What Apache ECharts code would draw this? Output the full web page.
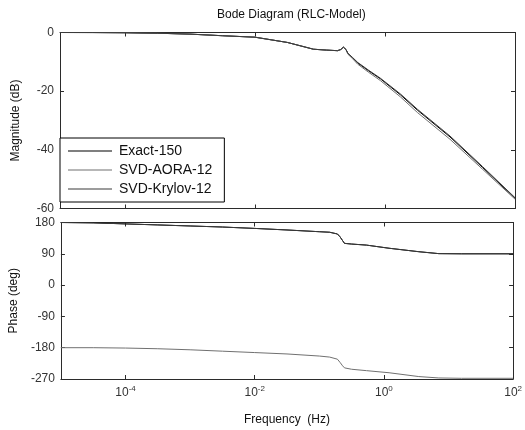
<!DOCTYPE html>
<html>
<head>
<meta charset="utf-8">
<script src="https://cdn.jsdelivr.net/npm/echarts@6/dist/echarts.min.js"></script>
<style>
  html, body { margin: 0; padding: 0; background: #fff; }
  #bode { width: 525px; height: 430px; }
</style>
</head>
<body>
<div id="bode"></div>
<script>
// log10 of frequency (Hz)
var magFreq = [-5, -4.5, -4, -3.5, -3, -2.5, -2, -1.5, -1.1, -0.9, -0.73, -0.68, -0.64, -0.62, -0.6, -0.57, -0.5, -0.42, -0.25, -0.07, 0.24, 0.5, 1.0, 1.5, 2.0];
var magExact  = [0, -0.02, -0.08, -0.25, -0.55, -1.1, -1.6, -3.4, -5.7, -6.0, -6.2, -5.8, -5.0, -4.5, -5.8, -7.2, -8.6, -10.4, -13.1, -15.8, -21.3, -26.5, -35.6, -46.0, -56.5];
var magAora   = [0, -0.02, -0.08, -0.25, -0.55, -1.1, -1.6, -3.4, -5.7, -6.0, -6.2, -5.8, -5.0, -4.6, -5.9, -7.4, -8.9, -10.8, -13.6, -16.4, -22.0, -27.3, -36.4, -46.6, -56.8];
var magKrylov = [0, -0.02, -0.08, -0.25, -0.55, -1.1, -1.6, -3.4, -5.7, -6.0, -6.2, -5.8, -5.0, -4.5, -5.8, -7.1, -8.5, -10.2, -12.9, -15.6, -21.0, -26.2, -35.3, -45.7, -56.3];

var phFreq = [-5, -4.5, -4, -3.5, -3, -2.5, -2, -1.5, -1, -0.84, -0.72, -0.68, -0.64, -0.61, -0.5, -0.27, 0.08, 0.54, 0.85, 1.2, 2.0];
var phExact  = [180, 179, 176, 173, 170, 167, 163, 158.5, 153.5, 152, 147, 139, 128, 120, 118, 115, 106, 96, 90.5, 90, 90];
var phAora   = [-180, -180, -181, -183, -186, -190, -194, -198, -204, -207, -213, -222, -232, -238, -242, -246, -252, -263, -267, -268, -268];
var phKrylov = [180, 179, 176, 173, 170, 167, 163, 158.5, 153.5, 152, 147, 139, 128, 120, 118, 115, 106, 96, 90.5, 90, 90];

var xTicks = [-4, -2, 0, 2];
var names = ['Exact-150', 'SVD-AORA-12', 'SVD-Krylov-12'];

function pairs(xs, ys) {
  return xs.map(function (x, i) { return [x, ys[i]]; });
}

var chart = echarts.init(document.getElementById('bode'));

var lineCol = '#2b2b2b';
var labCol = '#333';
var fnt = 'Liberation Sans, Arial, sans-serif';

function xAx(grid, pos, labels, name) {
  return {
    type: 'value', gridIndex: grid, position: pos, min: -5, max: 2,
    axisLine: { show: true, onZero: false, lineStyle: { color: lineCol, width: 1 } },
    axisTick: { show: true, inside: true, length: 4, customValues: xTicks, lineStyle: { color: lineCol } },
    axisLabel: {
      show: labels, customValues: xTicks, margin: 6, color: labCol, fontFamily: fnt,
      formatter: function (v) { return '{b|10}{s|' + v + '}'; },
      rich: {
        b: { fontSize: 12, color: labCol, fontFamily: fnt },
        s: { fontSize: 8, color: labCol, fontFamily: fnt, padding: [0, 0, 8, 0] }
      }
    },
    splitLine: { show: false },
    name: name || '', nameLocation: 'middle', nameGap: 35,
    nameTextStyle: { fontSize: 12, color: '#111', fontFamily: fnt }
  };
}

function yAx(grid, pos, min, max, iv, labels, name) {
  return {
    type: 'value', gridIndex: grid, position: pos, min: min, max: max, interval: iv,
    axisLine: { show: true, onZero: false, lineStyle: { color: lineCol, width: 1 } },
    axisTick: { show: true, inside: true, length: 4, lineStyle: { color: lineCol } },
    axisLabel: { show: labels, margin: 6, fontSize: 12, color: labCol, fontFamily: fnt },
    splitLine: { show: false },
    name: name || '', nameLocation: 'middle', nameGap: 38,
    nameTextStyle: { fontSize: 12, color: '#111', fontFamily: fnt }
  };
}

var cols = ['#000000', '#707070', '#3a3a3a'];

var options = {
  animation: false,
  backgroundColor: '#fff',
  title: {
    text: 'Bode Diagram (RLC-Model)', left: 212, top: 4,
    textStyle: { fontSize: 12, fontWeight: 'normal', color: '#111', fontFamily: fnt }
  },
  legend: {
    data: names.map(function (n) { return { name: n, icon: 'rect' }; }),
    orient: 'vertical', left: 60, top: 138,
    backgroundColor: '#fff', borderColor: '#000', borderWidth: 1,
    padding: [6, 12, 6, 8], itemWidth: 44, itemHeight: 1, itemGap: 5,
    textStyle: { fontSize: 14, color: '#111', fontFamily: fnt, padding: [0, 0, 0, 2] }
  },
  grid: [
    { left: 60, top: 32.5, width: 455, height: 176 },
    { left: 60, top: 222.5, width: 455, height: 156.5 }
  ],
  xAxis: [
    xAx(0, 'bottom', false),
    xAx(0, 'top', false),
    xAx(1, 'bottom', true, 'Frequency  (Hz)'),
    xAx(1, 'top', false)
  ],
  yAxis: [
    yAx(0, 'left', -60, 0, 20, true, 'Magnitude (dB)'),
    yAx(0, 'right', -60, 0, 20, false),
    yAx(1, 'left', -270, 180, 90, true, 'Phase (deg)'),
    yAx(1, 'right', -270, 180, 90, false)
  ],
  series: [
    { name: names[0], type: 'line', xAxisIndex: 0, yAxisIndex: 0, data: pairs(magFreq, magExact) },
    { name: names[1], type: 'line', xAxisIndex: 0, yAxisIndex: 0, data: pairs(magFreq, magAora) },
    { name: names[2], type: 'line', xAxisIndex: 0, yAxisIndex: 0, data: pairs(magFreq, magKrylov) },
    { name: names[0], type: 'line', xAxisIndex: 2, yAxisIndex: 2, data: pairs(phFreq, phExact) },
    { name: names[1], type: 'line', xAxisIndex: 2, yAxisIndex: 2, data: pairs(phFreq, phAora) },
    { name: names[2], type: 'line', xAxisIndex: 2, yAxisIndex: 2, data: pairs(phFreq, phKrylov) }
  ].map(function (s, i) {
    s.symbol = 'none';
    s.color = cols[i % 3];
    s.lineStyle = { width: 1, color: cols[i % 3] };
    return s;
  })
};

chart.setOption(options);
</script>
</body>
</html>
